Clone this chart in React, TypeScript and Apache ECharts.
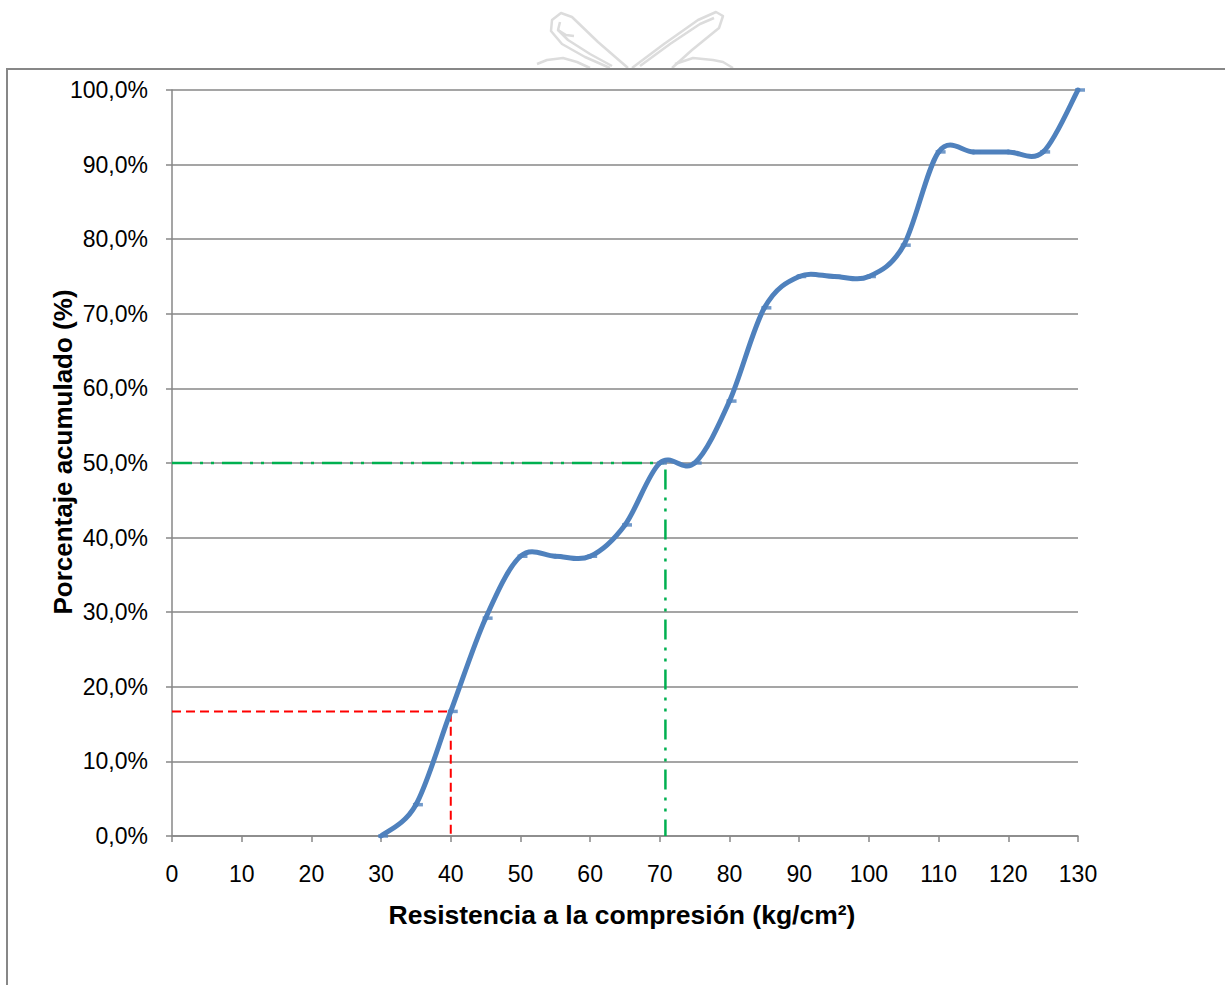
import React, { useEffect, useRef } from "react";
import * as echarts from "echarts";

// Compressive strength classes (kg/cm²) and cumulative share of specimens (%)
const strength = [30, 35, 40, 45, 50, 55, 60, 65, 70, 75, 80, 85, 90, 95, 100, 105, 110, 115, 120, 125, 130];
const cumulative = [0, 4.2, 16.7, 29.2, 37.5, 37.5, 37.5, 41.7, 50, 50, 58.3, 70.8, 75, 75, 75, 79.2, 91.7, 91.7, 91.7, 91.7, 100];

// Guide lines: lower reading (red) and median reading (green)
const redGuide = [
  [0, 16.7],
  [40, 16.7],
  [40, 0],
];
const greenGuide = [
  [0, 50],
  [70.8, 50],
  [70.8, 0],
];

const FONT = '"Liberation Sans", Arial, sans-serif';
const GRID = "#878787";
const BLUE = "#4F81BD";

// Faint crest drawn above the chart frame
const crestColor = "#dcdcdc";
const crest = [
  // left quill, outer and inner outline
  { points: [[610, 68], [585, 57], [562, 44], [551, 31], [552, 20], [561, 13], [572, 17], [598, 42], [628, 68]] },
  { points: [[612, 66], [590, 54], [568, 40], [558, 30], [560, 22]] },
  { points: [[558, 30], [566, 35], [574, 36]] },
  // right quill, outer and inner outline
  { points: [[632, 68], [664, 44], [698, 20], [716, 12], [723, 16], [719, 28], [692, 50], [672, 68]] },
  { points: [[640, 66], [670, 44], [700, 24], [714, 18]] },
  // ground strokes
  { points: [[537, 64], [547, 60], [563, 58], [577, 62], [590, 68]] },
  { points: [[675, 64], [693, 58], [713, 60], [723, 62], [733, 68]] },
];

export default function App() {
  const ref = useRef<HTMLDivElement>(null);

  useEffect(() => {
    if (!ref.current) return;
    const chart = echarts.init(ref.current, null, { renderer: "svg" });
    const n = strength.length;

    chart.setOption({
      animation: false,
      backgroundColor: "#ffffff",
      grid: { left: 172, right: 147, top: 90, bottom: 149 },
      graphic: [
        ...crest.map((c) => ({
          type: "polyline",
          shape: { points: c.points },
          style: { stroke: crestColor, lineWidth: 2.5, fill: null, lineJoin: "round" },
          silent: true,
        })),
        {
          type: "rect",
          shape: { x: 7, y: 69, width: 1400, height: 1000 },
          style: { fill: null, stroke: GRID, lineWidth: 2 },
          silent: true,
        },
        {
          type: "text",
          x: 63,
          y: 452,
          rotation: Math.PI / 2,
          style: {
            text: "Porcentaje acumulado (%)",
            font: `bold 26px ${FONT}`,
            fill: "#000",
            align: "center",
            verticalAlign: "middle",
          },
        },
      ],
      xAxis: {
        type: "value",
        min: 0,
        max: 130,
        interval: 10,
        name: "Resistencia a la compresión (kg/cm²)",
        nameLocation: "middle",
        nameGap: 65,
        nameTextStyle: {
          fontFamily: FONT,
          fontSize: 26.5,
          fontWeight: "bold",
          color: "#000",
          padding: [0, 6, 0, 0],
        },
        axisLine: { show: true, lineStyle: { color: GRID, width: 1.5 } },
        axisTick: { show: true, length: 6, lineStyle: { color: GRID, width: 1.5 } },
        axisLabel: { fontFamily: FONT, fontSize: 23, color: "#000", margin: 26 },
        splitLine: { show: false },
      },
      yAxis: {
        type: "value",
        min: 0,
        max: 100,
        interval: 10,
        axisLine: { show: true, lineStyle: { color: GRID, width: 1.5 } },
        axisTick: { show: true, length: 6, lineStyle: { color: GRID, width: 1.5 } },
        axisLabel: {
          fontFamily: FONT,
          fontSize: 23,
          color: "#000",
          margin: 24,
          formatter: (v: number) => v.toFixed(1).replace(".", ",") + "%",
        },
        splitLine: { show: true, lineStyle: { color: GRID, width: 1.5 } },
      },
      series: [
        {
          type: "line",
          data: redGuide,
          symbol: "none",
          z: 3,
          lineStyle: { color: "#FF0000", width: 2, type: [9, 5] },
        },
        {
          type: "line",
          data: greenGuide,
          symbol: "none",
          z: 3,
          lineStyle: { color: "#00B050", width: 2.5, type: [20, 8, 3, 8, 3, 8] },
        },
        {
          // Smoothed cumulative curve: one cubic segment per interval (Catmull-Rom tangents)
          type: "custom",
          coordinateSystem: "cartesian2d",
          z: 4,
          data: strength.map((x, i) => [x, cumulative[i]]),
          encode: { x: 0, y: 1 },
          renderItem: (params: any, api: any) => {
            const i = params.dataIndex;
            if (i >= n - 1) return null;
            const pt = (k: number) => {
              const j = Math.max(0, Math.min(n - 1, k));
              return api.coord([strength[j], cumulative[j]]);
            };
            const p0 = pt(i - 1);
            const p1 = pt(i);
            const p2 = pt(i + 1);
            const p3 = pt(i + 2);
            const t = 1 / 6;
            return {
              type: "bezierCurve",
              shape: {
                x1: p1[0],
                y1: p1[1],
                x2: p2[0],
                y2: p2[1],
                cpx1: p1[0] + (p2[0] - p0[0]) * t,
                cpy1: p1[1] + (p2[1] - p0[1]) * t,
                cpx2: p2[0] - (p3[0] - p1[0]) * t,
                cpy2: p2[1] - (p3[1] - p1[1]) * t,
              },
              style: { stroke: BLUE, lineWidth: 5, fill: null, lineCap: "round" },
            };
          },
        },
        {
          type: "scatter",
          z: 5,
          data: strength.map((x, i) => [x, cumulative[i]]),
          symbol: "rect",
          symbolSize: [10, 3.5],
          symbolOffset: [2, 0],
          itemStyle: { color: BLUE },
        },
      ],
    });

    return () => chart.dispose();
  }, []);

  return (
    <div
      ref={ref}
      style={{ position: "fixed", left: 0, top: 0, width: 1225, height: 985, background: "#fff" }}
    />
  );
}
